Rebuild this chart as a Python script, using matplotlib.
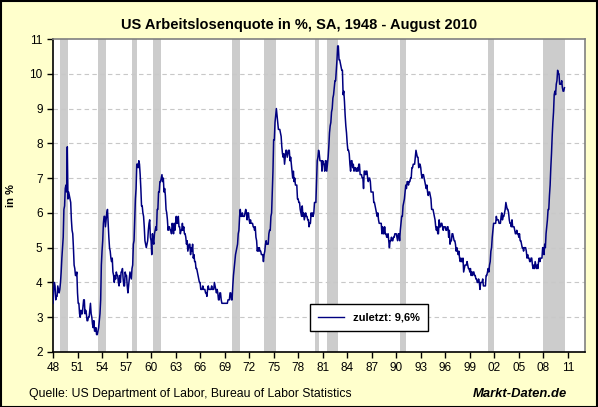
import numpy as np
import matplotlib.pyplot as plt
from matplotlib.lines import Line2D

plt.rcParams['font.family'] = ['Liberation Sans', 'DejaVu Sans']

# MARK: - Data (monthly, seasonally adjusted, Jan 1948 - Aug 2010)
rate_by_year = {
    1948: [3.4, 3.8, 4.0, 3.9, 3.5, 3.6, 3.6, 3.9, 3.8, 3.7, 3.8, 4.0],
    1949: [4.3, 4.7, 5.0, 5.3, 6.1, 6.2, 6.7, 6.8, 6.6, 7.9, 6.4, 6.6],
    1950: [6.5, 6.4, 6.3, 5.8, 5.5, 5.4, 5.0, 4.5, 4.4, 4.2, 4.2, 4.3],
    1951: [3.7, 3.4, 3.4, 3.1, 3.0, 3.2, 3.1, 3.1, 3.3, 3.5, 3.5, 3.1],
    1952: [3.2, 3.1, 2.9, 2.9, 3.0, 3.0, 3.2, 3.4, 3.1, 3.0, 2.8, 2.7],
    1953: [2.9, 2.6, 2.6, 2.7, 2.5, 2.5, 2.6, 2.7, 2.9, 3.1, 3.5, 4.5],
    1954: [4.9, 5.2, 5.7, 5.9, 5.9, 5.6, 5.8, 6.0, 6.1, 5.7, 5.3, 5.0],
    1955: [4.9, 4.7, 4.6, 4.7, 4.3, 4.2, 4.0, 4.2, 4.1, 4.3, 4.2, 4.2],
    1956: [4.0, 3.9, 4.2, 4.0, 4.3, 4.3, 4.4, 4.1, 3.9, 3.9, 4.3, 4.2],
    1957: [4.2, 3.9, 3.7, 3.9, 4.1, 4.3, 4.2, 4.1, 4.4, 4.5, 5.1, 5.2],
    1958: [5.8, 6.4, 6.7, 7.4, 7.4, 7.3, 7.5, 7.4, 7.1, 6.7, 6.2, 6.2],
    1959: [6.0, 5.9, 5.6, 5.2, 5.1, 5.0, 5.1, 5.2, 5.5, 5.7, 5.8, 5.3],
    1960: [5.2, 4.8, 5.4, 5.2, 5.1, 5.4, 5.5, 5.6, 5.5, 6.1, 6.1, 6.6],
    1961: [6.6, 6.9, 6.9, 7.0, 7.1, 6.9, 7.0, 6.6, 6.7, 6.5, 6.1, 6.0],
    1962: [5.8, 5.5, 5.6, 5.6, 5.5, 5.5, 5.4, 5.7, 5.6, 5.4, 5.7, 5.5],
    1963: [5.7, 5.9, 5.7, 5.7, 5.9, 5.6, 5.6, 5.4, 5.5, 5.5, 5.7, 5.5],
    1964: [5.6, 5.4, 5.4, 5.3, 5.1, 5.2, 4.9, 5.0, 5.1, 5.1, 4.8, 5.0],
    1965: [4.9, 5.1, 4.7, 4.8, 4.6, 4.6, 4.4, 4.4, 4.3, 4.2, 4.1, 4.0],
    1966: [4.0, 3.8, 3.8, 3.8, 3.9, 3.8, 3.8, 3.8, 3.7, 3.7, 3.6, 3.8],
    1967: [3.9, 3.8, 3.8, 3.8, 3.8, 3.9, 3.8, 3.8, 3.8, 4.0, 3.9, 3.8],
    1968: [3.7, 3.8, 3.7, 3.5, 3.5, 3.7, 3.7, 3.5, 3.4, 3.4, 3.4, 3.4],
    1969: [3.4, 3.4, 3.4, 3.4, 3.4, 3.5, 3.5, 3.5, 3.7, 3.7, 3.5, 3.5],
    1970: [3.9, 4.2, 4.4, 4.6, 4.8, 4.9, 5.0, 5.1, 5.4, 5.5, 5.9, 6.1],
    1971: [5.9, 5.9, 6.0, 5.9, 5.9, 5.9, 6.0, 6.1, 6.0, 5.8, 6.0, 6.0],
    1972: [5.8, 5.7, 5.8, 5.7, 5.7, 5.7, 5.6, 5.6, 5.5, 5.6, 5.3, 5.2],
    1973: [4.9, 5.0, 4.9, 5.0, 4.9, 4.9, 4.8, 4.8, 4.8, 4.6, 4.8, 4.9],
    1974: [5.1, 5.2, 5.1, 5.1, 5.1, 5.4, 5.5, 5.5, 5.9, 6.0, 6.6, 7.2],
    1975: [8.1, 8.1, 8.6, 8.8, 9.0, 8.8, 8.6, 8.4, 8.4, 8.4, 8.3, 8.2],
    1976: [7.9, 7.7, 7.6, 7.7, 7.4, 7.6, 7.8, 7.8, 7.6, 7.7, 7.8, 7.8],
    1977: [7.5, 7.6, 7.4, 7.2, 7.0, 7.2, 6.9, 7.0, 6.8, 6.8, 6.8, 6.4],
    1978: [6.4, 6.3, 6.3, 6.1, 6.0, 5.9, 6.2, 5.9, 6.0, 5.8, 5.9, 6.0],
    1979: [5.9, 5.9, 5.8, 5.8, 5.6, 5.7, 5.7, 6.0, 5.9, 6.0, 5.9, 6.0],
    1980: [6.3, 6.3, 6.3, 6.9, 7.5, 7.6, 7.8, 7.7, 7.5, 7.5, 7.5, 7.2],
    1981: [7.5, 7.4, 7.4, 7.2, 7.5, 7.5, 7.2, 7.4, 7.6, 7.9, 8.3, 8.5],
    1982: [8.6, 8.9, 9.0, 9.3, 9.4, 9.6, 9.8, 9.8, 10.1, 10.4, 10.8, 10.8],
    1983: [10.4, 10.4, 10.3, 10.2, 10.1, 10.1, 9.4, 9.5, 9.2, 8.8, 8.5, 8.3],
    1984: [8.0, 7.8, 7.8, 7.7, 7.4, 7.2, 7.5, 7.5, 7.3, 7.4, 7.2, 7.3],
    1985: [7.3, 7.2, 7.2, 7.3, 7.2, 7.4, 7.4, 7.1, 7.1, 7.1, 7.0, 7.0],
    1986: [6.7, 7.2, 7.2, 7.1, 7.2, 7.2, 7.0, 6.9, 7.0, 7.0, 6.9, 6.6],
    1987: [6.6, 6.6, 6.6, 6.3, 6.3, 6.2, 6.1, 6.0, 5.9, 6.0, 5.8, 5.7],
    1988: [5.7, 5.7, 5.7, 5.4, 5.6, 5.4, 5.4, 5.6, 5.4, 5.4, 5.3, 5.3],
    1989: [5.4, 5.2, 5.0, 5.2, 5.2, 5.3, 5.2, 5.2, 5.3, 5.3, 5.4, 5.4],
    1990: [5.4, 5.3, 5.2, 5.4, 5.4, 5.2, 5.5, 5.7, 5.9, 5.9, 6.2, 6.3],
    1991: [6.4, 6.6, 6.8, 6.7, 6.9, 6.9, 6.8, 6.9, 6.9, 7.0, 7.0, 7.3],
    1992: [7.3, 7.4, 7.4, 7.4, 7.6, 7.8, 7.7, 7.6, 7.6, 7.3, 7.4, 7.4],
    1993: [7.3, 7.1, 7.0, 7.1, 7.1, 7.0, 6.9, 6.8, 6.7, 6.8, 6.6, 6.5],
    1994: [6.6, 6.6, 6.5, 6.4, 6.1, 6.1, 6.1, 6.0, 5.9, 5.8, 5.6, 5.5],
    1995: [5.6, 5.4, 5.4, 5.8, 5.6, 5.6, 5.7, 5.7, 5.6, 5.5, 5.6, 5.6],
    1996: [5.6, 5.5, 5.5, 5.6, 5.6, 5.3, 5.5, 5.1, 5.2, 5.2, 5.4, 5.4],
    1997: [5.3, 5.2, 5.2, 5.1, 4.9, 5.0, 4.9, 4.8, 4.9, 4.7, 4.6, 4.7],
    1998: [4.6, 4.6, 4.7, 4.3, 4.4, 4.5, 4.5, 4.5, 4.6, 4.5, 4.4, 4.4],
    1999: [4.3, 4.4, 4.2, 4.3, 4.2, 4.3, 4.3, 4.2, 4.2, 4.1, 4.1, 4.0],
    2000: [4.0, 4.1, 4.0, 3.8, 4.0, 4.0, 4.0, 4.1, 3.9, 3.9, 3.9, 3.9],
    2001: [4.2, 4.2, 4.3, 4.4, 4.3, 4.5, 4.6, 4.9, 5.0, 5.3, 5.5, 5.7],
    2002: [5.7, 5.7, 5.7, 5.9, 5.8, 5.8, 5.8, 5.7, 5.7, 5.7, 5.9, 6.0],
    2003: [5.8, 5.9, 5.9, 6.0, 6.1, 6.3, 6.2, 6.1, 6.1, 6.0, 5.8, 5.7],
    2004: [5.7, 5.6, 5.8, 5.6, 5.6, 5.6, 5.5, 5.4, 5.4, 5.5, 5.4, 5.4],
    2005: [5.3, 5.4, 5.2, 5.2, 5.1, 5.0, 5.0, 4.9, 5.0, 5.0, 5.0, 4.9],
    2006: [4.7, 4.8, 4.7, 4.7, 4.6, 4.6, 4.7, 4.7, 4.5, 4.4, 4.5, 4.4],
    2007: [4.6, 4.5, 4.4, 4.5, 4.4, 4.6, 4.7, 4.6, 4.7, 4.7, 4.7, 5.0],
    2008: [5.0, 4.8, 5.1, 5.0, 5.4, 5.6, 5.8, 6.1, 6.1, 6.5, 6.8, 7.3],
    2009: [7.7, 8.2, 8.6, 8.9, 9.4, 9.5, 9.4, 9.7, 9.8, 10.1, 10.0, 10.0],
    2010: [9.7, 9.7, 9.7, 9.8, 9.6, 9.5, 9.5, 9.6],
}

# recession periods (start, end) in decimal years
recessions = [
    (1948.83, 1949.83), (1953.50, 1954.50), (1957.67, 1958.33),
    (1960.25, 1961.17), (1969.92, 1970.92), (1973.83, 1975.25),
    (1980.00, 1980.58), (1981.50, 1982.92), (1990.50, 1991.25),
    (2001.17, 2001.92), (2008.00, 2010.67),
]

tick_years = list(range(1948, 2012, 3))
tick_labels = [f"{y % 100:02d}" for y in tick_years]
y_ticks = list(range(2, 12))

title = "US Arbeitslosenquote in %, SA, 1948 - August 2010"
source = "Quelle: US Department of Labor, Bureau of Labor Statistics"
brand = "Markt-Daten.de"
legend_label = "zuletzt: 9,6%"


# MARK: - Build series
dates = []
values = []
for year, months in rate_by_year.items():
    for m, v in enumerate(months):
        dates.append(year + m / 12)
        values.append(v)
dates = np.array(dates)
values = np.array(values)


# MARK: - Plot
W, H = 598, 407
fig = plt.figure(figsize=(W / 100, H / 100), dpi=100, facecolor="#FFFFCC")
fig.patches.append(plt.Rectangle((0.5 / W, 0.5 / H), 1 - 1.5 / W, 1 - 1.5 / H,
                                 transform=fig.transFigure, fill=False,
                                 edgecolor="black", linewidth=1.5))

left, right, top, bottom = 53, 585, 39, 352
ax = fig.add_axes([left / W, 1 - bottom / H, (right - left) / W, (bottom - top) / H])
ax.set_facecolor("white")

for start, end in recessions:
    ax.axvspan(start, end, color="#CCCCCC", linewidth=0, zorder=1)

for y in y_ticks[1:-1]:
    ax.axhline(y, color="#C8C8C8", linestyle=(0, (4, 3)), linewidth=0.8, zorder=2)

ax.plot(dates, values, color="#000080", linewidth=1.1, zorder=3)

ax.set_xlim(1948, 2013.1)
ax.set_ylim(2, 11)
ax.set_xticks(tick_years)
ax.set_xticklabels(tick_labels, fontsize=8.5)
ax.set_yticks(y_ticks)
ax.set_yticklabels([str(v) for v in y_ticks], fontsize=8.5)
ax.tick_params(direction="out", length=4, width=1, pad=3.5)

for side in ("left", "bottom"):
    ax.spines[side].set_color("black")
    ax.spines[side].set_linewidth(1.2)
for side in ("top", "right"):
    ax.spines[side].set_color("#808080")
    ax.spines[side].set_linewidth(1.2)

ax.set_ylabel("in %", fontsize=8, fontweight="bold")
ax.yaxis.set_label_coords((16 - left) / (right - left), 0.5)

handle = Line2D([0], [0], color="#000080", linewidth=1.0)
leg = ax.legend([handle], [legend_label], loc="lower left",
                bbox_to_anchor=((310 - left) / (right - left), (bottom - 331) / (bottom - top)),
                borderaxespad=0, frameon=True, fancybox=False, edgecolor="black",
                facecolor="white", framealpha=1, prop={"size": 8, "weight": "bold"},
                handlelength=2.3, borderpad=0.75, handletextpad=0.8)
leg.get_frame().set_linewidth(1.0)

fig.text(0.5, 1 - 25 / H, title, ha="center", va="center", fontsize=10.5, fontweight="bold")
fig.text(29 / W, 1 - 394 / H, source, ha="left", va="center", fontsize=8.8)
fig.text(567 / W, 1 - 394 / H, brand, ha="right", va="center", fontsize=9.4,
         fontweight="bold", style="italic")

fig.savefig("out.png", dpi=100, facecolor=fig.get_facecolor())
